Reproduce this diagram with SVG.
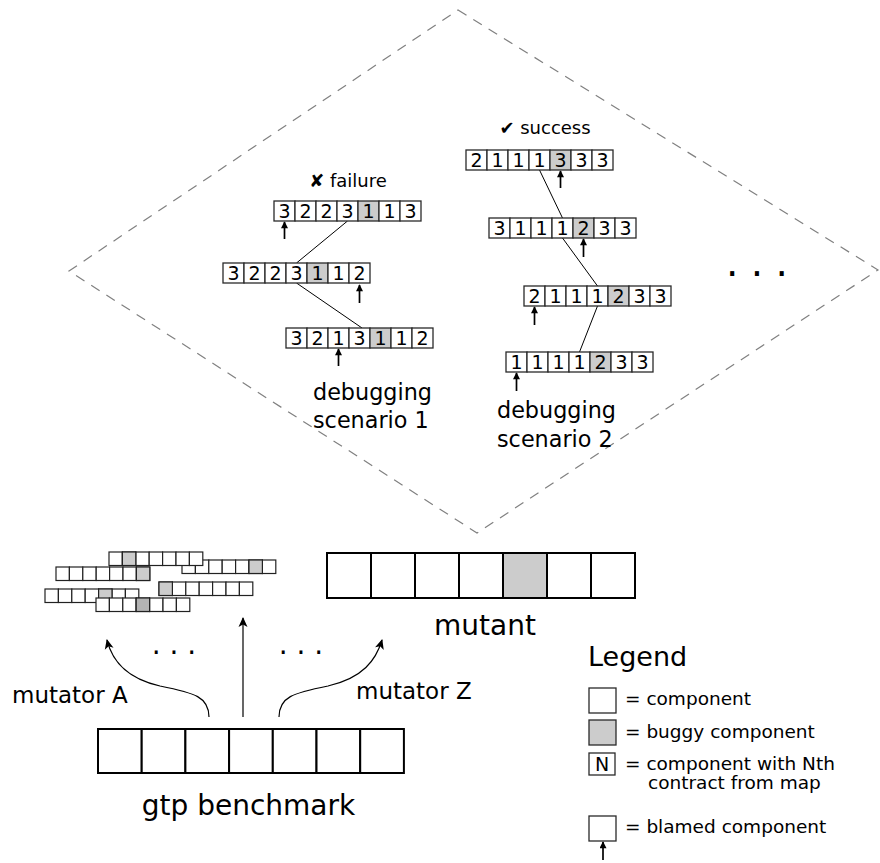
<svg xmlns="http://www.w3.org/2000/svg" width="880" height="863" viewBox="0 0 880 863">
  <defs>
    <style>
      text { font-family: "DejaVu Sans", "Liberation Sans", sans-serif; fill: #000; }
      .cell { fill: #fff; stroke: #2a2a2a; stroke-width: 1.3; }
      .bug { fill: #ccc; stroke: #2a2a2a; stroke-width: 1.3; }
      .dig { font-size: 19px; text-anchor: middle; }
      .big { fill: #fff; stroke: #000; stroke-width: 2; }
      .bigbug { fill: #ccc; stroke: #000; stroke-width: 2; }
      .sm { fill: #fff; stroke: #222; stroke-width: 1.2; }
      .smbug { fill: #ccc; stroke: #222; stroke-width: 1.2; }
      .smbug2 { fill: #b3b3b3; stroke: #222; stroke-width: 1.2; }
      .link { stroke: #000; stroke-width: 1; fill: none; }
      .blame { stroke: #000; stroke-width: 1.7; fill: none; marker-end: url(#tip); }
      .mut { stroke: #000; stroke-width: 1.2; fill: none; marker-end: url(#head); }
      .lbl { font-size: 22.3px; }
      .leg { font-size: 18.5px; }
    </style>
    <marker id="tip" viewBox="0 0 10 10" refX="9" refY="5" markerWidth="8" markerHeight="7" markerUnits="userSpaceOnUse" orient="auto">
      <path d="M0,0 L10,5 L0,10 z" fill="#000"/>
    </marker>
    <marker id="head" viewBox="0 0 10 10" refX="9" refY="5" markerWidth="11" markerHeight="10" markerUnits="userSpaceOnUse" orient="auto">
      <path d="M0,0.5 L10,5 L0,9.5 L2.5,5 z" fill="#000"/>
    </marker>
    <!-- small mutant strip: 7 cells, 13.4 x 13.5 -->
    <g id="strip">
      <rect class="sm" x="0" y="0" width="13.4" height="13.5"/>
      <rect class="sm" x="13.4" y="0" width="13.4" height="13.5"/>
      <rect class="sm" x="26.8" y="0" width="13.4" height="13.5"/>
      <rect class="sm" x="40.2" y="0" width="13.4" height="13.5"/>
      <rect class="sm" x="53.6" y="0" width="13.4" height="13.5"/>
      <rect class="sm" x="67" y="0" width="13.4" height="13.5"/>
      <rect class="sm" x="80.4" y="0" width="13.4" height="13.5"/>
    </g>
  </defs>

  <rect width="880" height="863" fill="#fff"/>

  <!-- debugging scenario region -->
  <polygon id="scenarios" points="458,10 878,270 477,533 69,271" fill="none" stroke="#808080" stroke-width="1.2" stroke-dasharray="10,8"/>

  <!-- connectors -->
  <g id="connectors">
    <!-- scenario 1 steps -->
    <line class="link" x1="347.5" y1="221" x2="296.5" y2="263"/>
    <line class="link" x1="296.5" y1="283" x2="362" y2="328"/>
    <!-- scenario 2 steps -->
    <line class="link" x1="539.5" y1="170" x2="562.5" y2="218"/>
    <line class="link" x1="562.5" y1="238" x2="597.5" y2="286"/>
    <line class="link" x1="597.5" y1="306" x2="579.5" y2="352"/>
    <!-- blame arrows -->
    <line class="blame" x1="284.5" y1="239" x2="284.5" y2="222"/>
    <line class="blame" x1="359.5" y1="303" x2="359.5" y2="285"/>
    <line class="blame" x1="338.5" y1="366" x2="338.5" y2="349"/>
    <line class="blame" x1="560.5" y1="188" x2="560.5" y2="171"/>
    <line class="blame" x1="583.5" y1="257" x2="583.5" y2="239"/>
    <line class="blame" x1="534.5" y1="325" x2="534.5" y2="307"/>
    <line class="blame" x1="516.5" y1="391" x2="516.5" y2="373"/>
    <line class="blame" x1="603" y1="860" x2="603" y2="842"/>
    <!-- mutators -->
    <path class="mut" d="M209,717 C209,697 195,693 160,686 C125,678 112,660 107,640"/>
    <line class="mut" x1="243" y1="717" x2="243" y2="618"/>
    <path class="mut" d="M279,717 C279,697 293,693 328,686 C363,678 376,660 382,640"/>
  </g>

  <!-- scenario 1 -->
  <g id="scenario1">
    <text x="348" y="187" font-size="18" text-anchor="middle">✘ failure</text>
    <g id="s1-step1">
      <rect class="cell" x="274" y="201" width="21" height="20"/>
      <rect class="cell" x="295" y="201" width="21" height="20"/>
      <rect class="cell" x="316" y="201" width="21" height="20"/>
      <rect class="cell" x="337" y="201" width="21" height="20"/>
      <rect class="bug" x="358" y="201" width="21" height="20"/>
      <rect class="cell" x="379" y="201" width="21" height="20"/>
      <rect class="cell" x="400" y="201" width="21" height="20"/>
      <text class="dig" y="218"><tspan x="284.5">3</tspan><tspan x="305.5">2</tspan><tspan x="326.5">2</tspan><tspan x="347.5">3</tspan><tspan x="368.5">1</tspan><tspan x="389.5">1</tspan><tspan x="410.5">3</tspan></text>
    </g>
    <g id="s1-step2">
      <rect class="cell" x="223" y="263" width="21" height="20"/>
      <rect class="cell" x="244" y="263" width="21" height="20"/>
      <rect class="cell" x="265" y="263" width="21" height="20"/>
      <rect class="cell" x="286" y="263" width="21" height="20"/>
      <rect class="bug" x="307" y="263" width="21" height="20"/>
      <rect class="cell" x="328" y="263" width="21" height="20"/>
      <rect class="cell" x="349" y="263" width="21" height="20"/>
      <text class="dig" y="280"><tspan x="233.5">3</tspan><tspan x="254.5">2</tspan><tspan x="275.5">2</tspan><tspan x="296.5">3</tspan><tspan x="317.5">1</tspan><tspan x="338.5">1</tspan><tspan x="359.5">2</tspan></text>
    </g>
    <g id="s1-step3">
      <rect class="cell" x="286" y="328" width="21" height="20"/>
      <rect class="cell" x="307" y="328" width="21" height="20"/>
      <rect class="cell" x="328" y="328" width="21" height="20"/>
      <rect class="cell" x="349" y="328" width="21" height="20"/>
      <rect class="bug" x="370" y="328" width="21" height="20"/>
      <rect class="cell" x="391" y="328" width="21" height="20"/>
      <rect class="cell" x="412" y="328" width="21" height="20"/>
      <text class="dig" y="345"><tspan x="296.5">3</tspan><tspan x="317.5">2</tspan><tspan x="338.5">1</tspan><tspan x="359.5">3</tspan><tspan x="380.5">1</tspan><tspan x="401.5">1</tspan><tspan x="422.5">2</tspan></text>
    </g>
    <text class="lbl" x="313" y="400">debugging</text>
    <text class="lbl" x="313" y="428">scenario 1</text>
  </g>

  <!-- scenario 2 -->
  <g id="scenario2">
    <text x="545" y="134" font-size="18" text-anchor="middle">✔ success</text>
    <g id="s2-step1">
      <rect class="cell" x="466" y="150" width="21" height="20"/>
      <rect class="cell" x="487" y="150" width="21" height="20"/>
      <rect class="cell" x="508" y="150" width="21" height="20"/>
      <rect class="cell" x="529" y="150" width="21" height="20"/>
      <rect class="bug" x="550" y="150" width="21" height="20"/>
      <rect class="cell" x="571" y="150" width="21" height="20"/>
      <rect class="cell" x="592" y="150" width="21" height="20"/>
      <text class="dig" y="167"><tspan x="476.5">2</tspan><tspan x="497.5">1</tspan><tspan x="518.5">1</tspan><tspan x="539.5">1</tspan><tspan x="560.5">3</tspan><tspan x="581.5">3</tspan><tspan x="602.5">3</tspan></text>
    </g>
    <g id="s2-step2">
      <rect class="cell" x="489" y="218" width="21" height="20"/>
      <rect class="cell" x="510" y="218" width="21" height="20"/>
      <rect class="cell" x="531" y="218" width="21" height="20"/>
      <rect class="cell" x="552" y="218" width="21" height="20"/>
      <rect class="bug" x="573" y="218" width="21" height="20"/>
      <rect class="cell" x="594" y="218" width="21" height="20"/>
      <rect class="cell" x="615" y="218" width="21" height="20"/>
      <text class="dig" y="235"><tspan x="499.5">3</tspan><tspan x="520.5">1</tspan><tspan x="541.5">1</tspan><tspan x="562.5">1</tspan><tspan x="583.5">2</tspan><tspan x="604.5">3</tspan><tspan x="625.5">3</tspan></text>
    </g>
    <g id="s2-step3">
      <rect class="cell" x="524" y="286" width="21" height="20"/>
      <rect class="cell" x="545" y="286" width="21" height="20"/>
      <rect class="cell" x="566" y="286" width="21" height="20"/>
      <rect class="cell" x="587" y="286" width="21" height="20"/>
      <rect class="bug" x="608" y="286" width="21" height="20"/>
      <rect class="cell" x="629" y="286" width="21" height="20"/>
      <rect class="cell" x="650" y="286" width="21" height="20"/>
      <text class="dig" y="303"><tspan x="534.5">2</tspan><tspan x="555.5">1</tspan><tspan x="576.5">1</tspan><tspan x="597.5">1</tspan><tspan x="618.5">2</tspan><tspan x="639.5">3</tspan><tspan x="660.5">3</tspan></text>
    </g>
    <g id="s2-step4">
      <rect class="cell" x="506" y="352" width="21" height="20"/>
      <rect class="cell" x="527" y="352" width="21" height="20"/>
      <rect class="cell" x="548" y="352" width="21" height="20"/>
      <rect class="cell" x="569" y="352" width="21" height="20"/>
      <rect class="bug" x="590" y="352" width="21" height="20"/>
      <rect class="cell" x="611" y="352" width="21" height="20"/>
      <rect class="cell" x="632" y="352" width="21" height="20"/>
      <text class="dig" y="369"><tspan x="516.5">1</tspan><tspan x="537.5">1</tspan><tspan x="558.5">1</tspan><tspan x="579.5">1</tspan><tspan x="600.5">2</tspan><tspan x="621.5">3</tspan><tspan x="642.5">3</tspan></text>
    </g>
    <text class="lbl" x="497" y="418">debugging</text>
    <text class="lbl" x="497" y="447">scenario 2</text>
  </g>

  <text id="more-scenarios" x="757" y="276" font-size="39" text-anchor="middle">. . .</text>

  <!-- mutants produced by the mutators -->
  <g id="mutant-pool">
    <g transform="translate(182,560)"><use href="#strip"/><rect class="smbug" x="67" y="0" width="13.4" height="13.5"/></g>
    <g transform="translate(109,552)"><use href="#strip"/><rect class="smbug" x="13.4" y="0" width="13.4" height="13.5"/></g>
    <g transform="translate(56,567)"><use href="#strip"/><rect class="smbug" x="80.4" y="0" width="13.4" height="13.5"/></g>
    <g transform="translate(159,582)"><use href="#strip"/><rect class="smbug" x="0" y="0" width="13.4" height="13.5"/></g>
    <g transform="translate(45,589)"><use href="#strip"/><rect class="smbug" x="53.6" y="0" width="13.4" height="13.5"/></g>
    <g transform="translate(96,598)"><use href="#strip"/><rect class="smbug2" x="40.2" y="0" width="13.4" height="13.5"/></g>
  </g>

  <g id="mutant">
    <rect class="big" x="327" y="553" width="44" height="45"/>
    <rect class="big" x="371" y="553" width="44" height="45"/>
    <rect class="big" x="415" y="553" width="44" height="45"/>
    <rect class="big" x="459" y="553" width="44" height="45"/>
    <rect class="bigbug" x="503" y="553" width="44" height="45"/>
    <rect class="big" x="547" y="553" width="44" height="45"/>
    <rect class="big" x="591" y="553" width="44" height="45"/>
    <text x="485" y="635" font-size="28" text-anchor="middle">mutant</text>
  </g>

  <g id="mutator-labels">
    <text x="12" y="703" font-size="23">mutator A</text>
    <text x="356" y="699" font-size="23">mutator Z</text>
    <text x="174" y="653.5" font-size="28" text-anchor="middle">. . .</text>
    <text x="301" y="653.5" font-size="28" text-anchor="middle">. . .</text>
  </g>

  <g id="benchmark">
    <rect class="big" x="98" y="729" width="43.7" height="44"/>
    <rect class="big" x="141.7" y="729" width="43.7" height="44"/>
    <rect class="big" x="185.4" y="729" width="43.7" height="44"/>
    <rect class="big" x="229.1" y="729" width="43.7" height="44"/>
    <rect class="big" x="272.8" y="729" width="43.7" height="44"/>
    <rect class="big" x="316.5" y="729" width="43.7" height="44"/>
    <rect class="big" x="360.2" y="729" width="43.7" height="44"/>
    <text x="248.5" y="815" font-size="28" text-anchor="middle">gtp benchmark</text>
  </g>

  <g id="legend">
    <text x="588" y="666" font-size="27">Legend</text>
    <rect class="cell" x="589" y="688" width="27" height="25"/>
    <text class="leg" x="625" y="705">= component</text>
    <rect class="bug" x="589" y="720" width="27" height="25"/>
    <text class="leg" x="625" y="738">= buggy component</text>
    <rect class="cell" x="589" y="753" width="26" height="22"/>
    <text class="dig" x="602" y="771">N</text>
    <text class="leg" x="625" y="770">= component with Nth</text>
    <text class="leg" x="648" y="789">contract from map</text>
    <rect class="cell" x="589" y="816" width="27" height="25"/>
    <text class="leg" x="625" y="833">= blamed component</text>
  </g>
</svg>
